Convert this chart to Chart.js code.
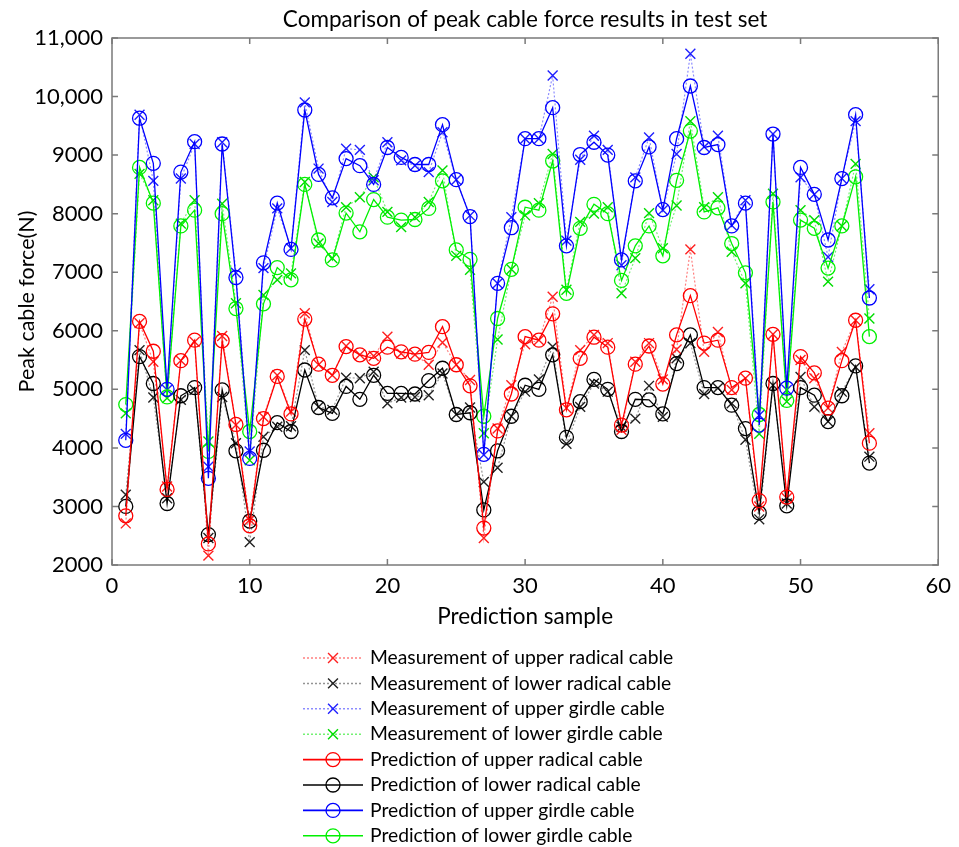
<!DOCTYPE html>
<html>
<head>
<meta charset="utf-8">
<script src="https://cdn.jsdelivr.net/npm/chart.js@4/dist/chart.umd.min.js"></script>
<style>
  html, body { margin: 0; padding: 0; background: #fff; }
  #wrap { width: 959px; height: 847px; }
</style>
</head>
<body>
<div id="wrap"><canvas id="c" width="959" height="847"></canvas></div>
<script>
const samples = [1,2,3,4,5,6,7,8,9,10,11,12,13,14,15,16,17,18,19,20,21,22,23,24,25,26,27,28,29,30,31,32,33,34,35,36,37,38,39,40,41,42,43,44,45,46,47,48,49,50,51,52,53,54,55];

const measUpperRadical = [2710,6130,5470,3340,5490,5810,2160,5910,4390,2770,4530,5240,4620,6300,5420,5240,5740,5590,5570,5900,5610,5590,5420,5800,5420,5160,2460,4330,5070,5770,5840,6580,4680,5670,5930,5790,4310,5470,5790,5170,5680,7390,5640,5980,4990,5190,3000,5940,3140,5500,5190,4680,5640,6180,4250];
const measLowerRadical = [3200,5670,4860,3140,4820,4990,2460,4870,4080,2390,4190,4360,4370,5670,4700,4650,5200,5190,5300,4760,4860,4870,4900,5270,4570,4690,3420,3660,4540,4960,5170,5730,4070,4700,5100,4960,4360,4500,5060,4530,5530,5790,4920,5020,4760,4140,2780,5070,3050,5210,4700,4450,4960,5380,3850];
const measUpperGirdle = [4240,9690,8560,4990,8600,9190,3680,9220,6990,3940,7070,8090,7410,9900,8770,8200,9110,9090,8570,9220,8910,8820,8710,9390,8580,7970,3880,6810,7940,9280,9280,10360,7540,8920,9330,9090,7120,8620,9300,8060,9020,10730,9140,9330,7800,8230,4560,9360,4990,8620,8330,7260,8600,9580,6710];
const measLowerGirdle = [4590,8680,8230,4850,7830,8230,4110,8170,6470,3790,6610,6870,6980,8540,7490,7240,8110,8280,8620,8030,7770,7940,8200,8740,7280,7040,4250,5850,7050,7970,8180,9020,6700,7860,8000,8110,6640,7240,8010,7410,8140,9580,8110,8280,7350,6810,4240,8340,4790,8060,7890,6840,7790,8850,6210];
const predUpperRadical = [2840,6160,5650,3290,5490,5840,2360,5830,4400,2670,4500,5220,4580,6200,5430,5240,5730,5590,5530,5720,5640,5600,5630,6070,5420,5060,2630,4290,4920,5900,5840,6290,4650,5530,5890,5720,4390,5430,5740,5090,5930,6600,5790,5840,5030,5190,3100,5940,3160,5560,5280,4680,5490,6180,4080];
const predLowerRadical = [3000,5560,5100,3050,4890,5030,2520,4990,3950,2750,3960,4430,4280,5330,4690,4590,5050,4830,5240,4930,4930,4920,5150,5360,4570,4600,2940,3950,4540,5070,5000,5590,4180,4790,5170,5000,4280,4830,4820,4580,5440,5930,5030,5030,4730,4330,2890,5100,3010,5030,4900,4450,4890,5400,3740];
const predUpperGirdle = [4130,9630,8860,5000,8710,9230,3480,9190,6910,3820,7160,8180,7390,9770,8670,8270,8940,8820,8500,9130,8960,8840,8840,9520,8580,7950,3890,6810,7760,9280,9280,9810,7450,9010,9220,9000,7210,8560,9140,8070,9280,10180,9130,9180,7790,8180,4390,9360,5020,8790,8330,7550,8600,9690,6560];
const predLowerGirdle = [4740,8790,8180,4870,7790,8060,3940,8000,6380,4280,6460,7080,6870,8500,7550,7210,8010,7690,8240,7940,7890,7900,8090,8560,7380,7220,4540,6210,7050,8110,8060,8900,6640,7750,8160,8000,6860,7450,7790,7280,8570,9410,8030,8100,7490,6990,4570,8200,4810,7890,7750,7070,7790,8630,5900];

const yTickLabels = ['2000','3000','4000','5000','6000','7000','8000','9000','10,000','11,000'];
const xTickLabels = ['0','10','20','30','40','50','60'];

const seriesNames = [
  'Measurement of upper radical cable',
  'Measurement of lower radical cable',
  'Measurement of upper girdle cable',
  'Measurement of lower girdle cable',
  'Prediction of upper radical cable',
  'Prediction of lower radical cable',
  'Prediction of upper girdle cable',
  'Prediction of lower girdle cable'
];
const seriesValues = [measUpperRadical, measLowerRadical, measUpperGirdle, measLowerGirdle,
                      predUpperRadical, predLowerRadical, predUpperGirdle, predLowerGirdle];

const lineColors = ['rgba(255,0,0,0.5)','rgba(0,0,0,0.42)','rgba(0,0,255,0.45)','rgba(0,230,0,0.55)',
                    '#ff0000','#000000','#0000ff','#00f000'];
const markColors = ['#ff2020','#222222','#2020ff','#00dd00','#ff0000','#000000','#0000ff','#00f000'];

const FONT = 'Lato, "Open Sans", sans-serif';

const datasets = seriesValues.map((vals, i) => {
  const meas = i < 4;
  return {
    label: seriesNames[i],
    data: vals.map((v, k) => ({ x: samples[k], y: v })),
    borderColor: lineColors[i],
    borderWidth: meas ? 1.2 : 1.3,
    borderDash: meas ? [2, 2] : [],
    pointStyle: meas ? 'crossRot' : 'circle',
    pointRadius: meas ? 7 : 7,
    pointHoverRadius: 7,
    pointBorderColor: markColors[i],
    pointBackgroundColor: 'rgba(0,0,0,0)',
    pointBorderWidth: meas ? 1.4 : 1.3,
    tension: 0,
    fill: false,
    order: meas ? 2 : 1
  };
});

const boxPlugin = {
  id: 'boxTicks',
  afterDraw(chart) {
    const { ctx, chartArea: a, scales } = chart;
    ctx.save();
    ctx.strokeStyle = '#7a7a7a';
    ctx.lineWidth = 1.5;
    ctx.setLineDash([]);
    ctx.strokeRect(a.left, a.top, a.right - a.left, a.bottom - a.top);
    const tl = 6;
    ctx.beginPath();
    scales.x.ticks.forEach(t => {
      const px = scales.x.getPixelForValue(t.value);
      ctx.moveTo(px, a.bottom); ctx.lineTo(px, a.bottom - tl);
      ctx.moveTo(px, a.top); ctx.lineTo(px, a.top + tl);
    });
    scales.y.ticks.forEach(t => {
      const py = scales.y.getPixelForValue(t.value);
      ctx.moveTo(a.left, py); ctx.lineTo(a.left + tl, py);
      ctx.moveTo(a.right, py); ctx.lineTo(a.right - tl, py);
    });
    ctx.stroke();
    ctx.restore();
  }
};

const legendPlugin = {
  id: 'stackLegend',
  afterDraw(chart) {
    const ctx = chart.ctx;
    const top = 658, step = 25.4, x0 = 303, x1 = 363, xm = 333, xt = 370;
    chart.data.datasets.forEach((ds, i) => {
      const y = top + i * step;
      ctx.save();
      ctx.strokeStyle = ds.borderColor;
      ctx.lineWidth = ds.borderWidth + 0.3;
      ctx.setLineDash(ds.borderDash);
      ctx.beginPath(); ctx.moveTo(x0, y); ctx.lineTo(x1, y); ctx.stroke();
      ctx.setLineDash([]);
      ctx.strokeStyle = ds.pointBorderColor;
      ctx.lineWidth = ds.pointBorderWidth;
      ctx.beginPath();
      if (ds.pointStyle === 'circle') {
        ctx.arc(xm, y, ds.pointRadius, 0, Math.PI * 2);
      } else {
        const r = ds.pointRadius * 0.707;
        ctx.moveTo(xm - r, y - r); ctx.lineTo(xm + r, y + r);
        ctx.moveTo(xm - r, y + r); ctx.lineTo(xm + r, y - r);
      }
      ctx.stroke();
      ctx.fillStyle = '#000';
      ctx.font = '19.3px ' + FONT;
      ctx.textAlign = 'left';
      ctx.textBaseline = 'middle';
      ctx.fillText(ds.label, xt, y);
      ctx.restore();
    });
  }
};

new Chart(document.getElementById('c'), {
  type: 'line',
  data: { datasets },
  options: {
    responsive: false,
    animation: false,
    events: [],
    layout: { padding: { left: 0, right: 12, top: 0, bottom: 200 } },
    plugins: {
      legend: { display: false },
      tooltip: { enabled: false },
      title: {
        display: true,
        text: 'Comparison of peak cable force results in test set',
        color: '#000',
        fullSize: false,
        font: { family: FONT, size: 22.5, weight: 'normal', lineHeight: 1.2 },
        padding: { top: 6, bottom: 5 }
      }
    },
    scales: {
      x: {
        type: 'linear',
        min: 0, max: 60,
        ticks: {
          stepSize: 10,
          color: '#000',
          padding: 8,
          maxRotation: 0,
          font: { family: FONT, size: 22 },
          callback: (v, i) => xTickLabels[i]
        },
        grid: { display: false, drawTicks: false },
        border: { display: false },
        title: {
          display: true, text: 'Prediction sample', color: '#000',
          font: { family: FONT, size: 22.5, lineHeight: 1.2 },
          padding: { top: 0, bottom: 17 }
        },
        afterFit(s) { s.height = 82; }
      },
      y: {
        type: 'linear',
        min: 2000, max: 11000,
        ticks: {
          stepSize: 1000,
          color: '#000',
          padding: 9,
          font: { family: FONT, size: 22 },
          callback: (v, i) => yTickLabels[i]
        },
        grid: { display: false, drawTicks: false },
        border: { display: false },
        title: {
          display: true, text: 'Peak cable force(N)', color: '#000',
          font: { family: FONT, size: 21.5, lineHeight: 1.2 },
          padding: { top: 14, bottom: 0 }
        },
        afterFit(s) { s.width = 112; }
      }
    }
  },
  plugins: [boxPlugin, legendPlugin]
});
</script>
</body>
</html>
